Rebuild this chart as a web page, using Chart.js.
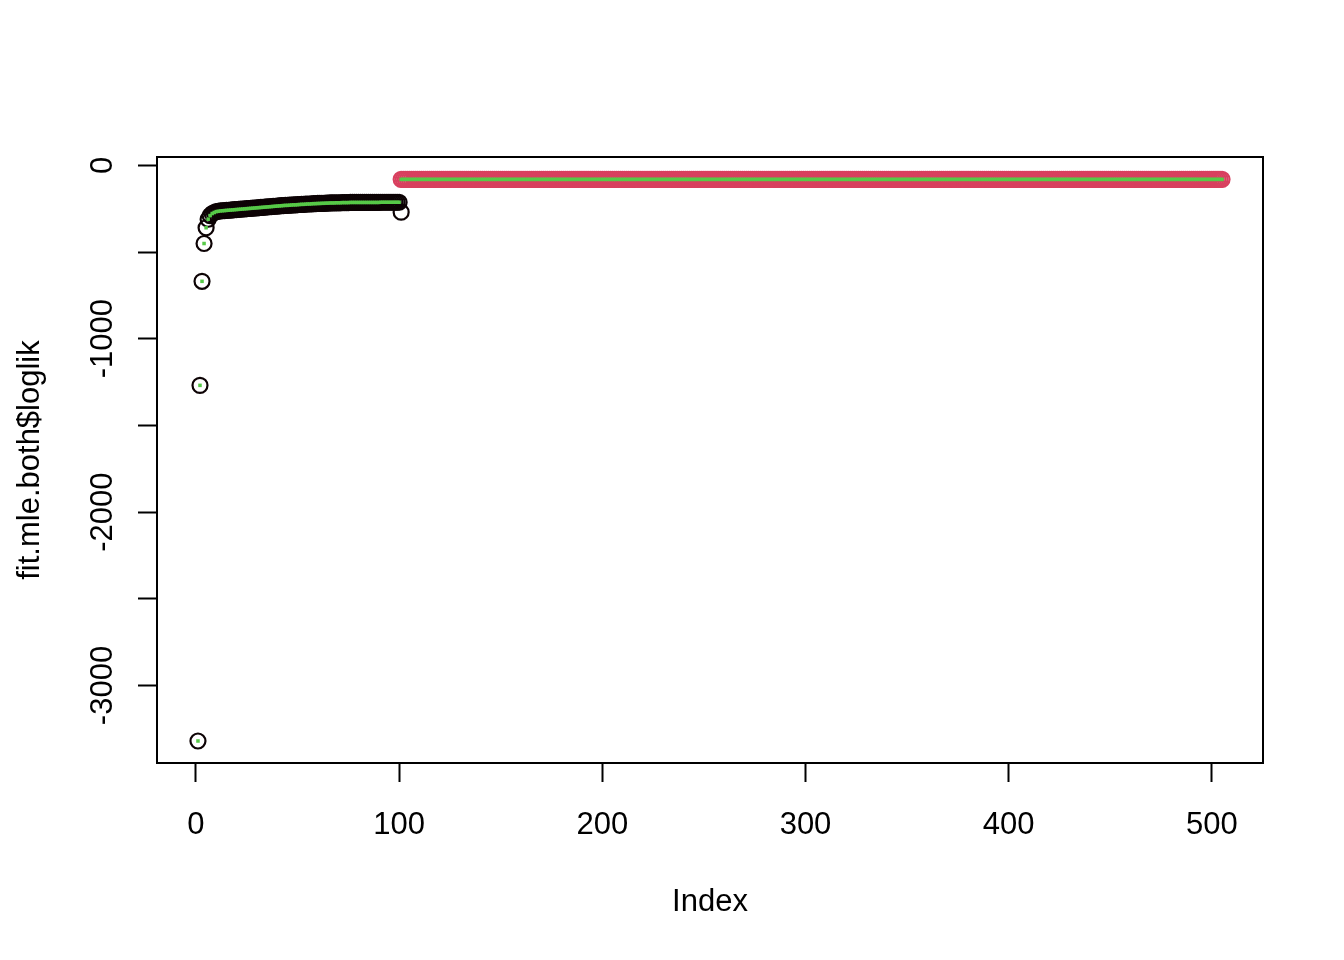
<!DOCTYPE html>
<html>
<head>
<meta charset="utf-8">
<script src="https://cdn.jsdelivr.net/npm/chart.js@4.4.0/dist/chart.umd.min.js"></script>
<style>
  html, body { margin: 0; padding: 0; background: #fff; }
  #wrap { width: 1344px; height: 960px; }
</style>
</head>
<body>
<div id="wrap"><canvas id="plot" width="1344" height="960"></canvas></div>
<script>
// values (index 1..101 black, 101..505 red)
const blackLoglik = [
  -3320, -1269, -669, -451, -360, -311, -290, -278, -272, -267,
  -265, -263, -262, -261, -260, -259, -258, -257, -256, -255,
  -254, -253, -252, -251, -250, -249, -248, -247, -246, -245,
  -244, -243, -242, -241, -240, -239, -238, -237, -236, -235,
  -234, -233, -232, -231, -231, -230, -229, -228, -228, -227,
  -226, -225, -225, -224, -223, -223, -222, -221, -221, -220,
  -220, -219, -219, -218, -218, -217, -217, -217, -216, -216,
  -216, -215, -215, -215, -215, -214, -214, -214, -214, -214,
  -214, -214, -214, -214, -214, -214, -214, -214, -214, -214,
  -213, -213, -213, -213, -213, -213, -213, -213, -213, -213,
  -270
];

const redLoglik = [
  -81, -81, -81, -81, -81, -81, -81, -81, -81, -81, -81, -81, -81, -81, -81,
  -81, -81, -81, -81, -81, -81, -81, -81, -81, -81, -81, -81, -81, -81, -81,
  -81, -81, -81, -81, -81, -81, -81, -81, -81, -81, -81, -81, -81, -81, -81,
  -81, -81, -81, -81, -81, -81, -81, -81, -81, -81, -81, -81, -81, -81, -81,
  -81, -81, -81, -81, -81, -81, -81, -81, -81, -81, -81, -81, -81, -81, -81,
  -81, -81, -81, -81, -81, -81, -81, -81, -81, -81, -81, -81, -81, -81, -81,
  -81, -81, -81, -81, -81, -81, -81, -81, -81, -81, -81, -81, -81, -81, -81,
  -81, -81, -81, -81, -81, -81, -81, -81, -81, -81, -81, -81, -81, -81, -81,
  -81, -81, -81, -81, -81, -81, -81, -81, -81, -81, -81, -81, -81, -81, -81,
  -81, -81, -81, -81, -81, -81, -81, -81, -81, -81, -81, -81, -81, -81, -81,
  -81, -81, -81, -81, -81, -81, -81, -81, -81, -81, -81, -81, -81, -81, -81,
  -81, -81, -81, -81, -81, -81, -81, -81, -81, -81, -81, -81, -81, -81, -81,
  -81, -81, -81, -81, -81, -81, -81, -81, -81, -81, -81, -81, -81, -81, -81,
  -81, -81, -81, -81, -81, -81, -81, -81, -81, -81, -81, -81, -81, -81, -81,
  -81, -81, -81, -81, -81, -81, -81, -81, -81, -81, -81, -81, -81, -81, -81,
  -81, -81, -81, -81, -81, -81, -81, -81, -81, -81, -81, -81, -81, -81, -81,
  -81, -81, -81, -81, -81, -81, -81, -81, -81, -81, -81, -81, -81, -81, -81,
  -81, -81, -81, -81, -81, -81, -81, -81, -81, -81, -81, -81, -81, -81, -81,
  -81, -81, -81, -81, -81, -81, -81, -81, -81, -81, -81, -81, -81, -81, -81,
  -81, -81, -81, -81, -81, -81, -81, -81, -81, -81, -81, -81, -81, -81, -81,
  -81, -81, -81, -81, -81, -81, -81, -81, -81, -81, -81, -81, -81, -81, -81,
  -81, -81, -81, -81, -81, -81, -81, -81, -81, -81, -81, -81, -81, -81, -81,
  -81, -81, -81, -81, -81, -81, -81, -81, -81, -81, -81, -81, -81, -81, -81,
  -81, -81, -81, -81, -81, -81, -81, -81, -81, -81, -81, -81, -81, -81, -81,
  -81, -81, -81, -81, -81, -81, -81, -81, -81, -81, -81, -81, -81, -81, -81,
  -81, -81, -81, -81, -81, -81, -81, -81, -81, -81, -81, -81, -81, -81, -81,
  -81, -81, -81, -81, -81, -81, -81, -81, -81, -81, -81, -81, -81, -81, -81
];
const redStart = 101;

const xTicks = [0, 100, 200, 300, 400, 500];
const yTicks = [0, -500, -1000, -1500, -2000, -2500, -3000];
const yTickLabels = [0, -1000, -2000, -3000];

const xTitle = 'Index';
const yTitle = 'fit.mle.both$loglik';

// green dots: black run up to 100, then the red run
const greenLoglik = blackLoglik.slice(0, redStart - 1).concat(redLoglik);

const blackPts = blackLoglik.map((v, i) => ({ x: i + 1, y: v }));
const redPts = redLoglik.map((v, i) => ({ x: i + redStart, y: v }));
const greenPts = greenLoglik.map((v, i) => ({ x: i + 1, y: v }));

const FONT = '"Liberation Sans", Arial, Helvetica, sans-serif';

const rAxes = {
  id: 'rAxes',
  afterDraw(chart) {
    const ctx = chart.ctx;
    const a = chart.chartArea;
    const xs = chart.scales.x;
    const ys = chart.scales.y;
    ctx.save();
    ctx.strokeStyle = '#000';
    ctx.lineWidth = 2;
    ctx.strokeRect(a.left, a.top, a.right - a.left, a.bottom - a.top);

    ctx.fillStyle = '#000';
    ctx.font = '31px ' + FONT;
    ctx.textAlign = 'center';
    ctx.textBaseline = 'alphabetic';
    xTicks.forEach(v => {
      ctx.fillText(String(v), xs.getPixelForValue(v), 834);
    });
    yTickLabels.forEach(v => {
      ctx.save();
      ctx.translate(112, ys.getPixelForValue(v));
      ctx.rotate(-Math.PI / 2);
      ctx.fillText(String(v), 0, 0);
      ctx.restore();
    });

    ctx.fillText(xTitle, (a.left + a.right) / 2, 911);
    ctx.save();
    ctx.translate(39, (a.top + a.bottom) / 2);
    ctx.rotate(-Math.PI / 2);
    ctx.fillText(yTitle, 0, 0);
    ctx.restore();
    ctx.restore();
  }
};

new Chart(document.getElementById('plot'), {
  type: 'scatter',
  data: {
    datasets: [
      {
        label: 'green',
        data: greenPts,
        pointStyle: 'rect',
        pointRadius: 2.5,
        pointBorderWidth: 0,
        backgroundColor: '#57C948',
        borderColor: '#57C948'
      },
      {
        label: 'red',
        data: redPts,
        pointStyle: 'circle',
        pointRadius: 7.5,
        pointBorderWidth: 2.2,
        borderColor: '#D8405F',
        backgroundColor: 'rgba(0,0,0,0)'
      },
      {
        label: 'black',
        data: blackPts,
        pointStyle: 'circle',
        pointRadius: 7.5,
        pointBorderWidth: 2.2,
        borderColor: '#0d0305',
        backgroundColor: 'rgba(0,0,0,0)'
      }
    ]
  },
  options: {
    responsive: false,
    animation: false,
    layout: { padding: { left: 0, top: 157, right: 81, bottom: 0 } },
    plugins: {
      legend: { display: false },
      tooltip: { enabled: false }
    },
    scales: {
      x: {
        type: 'linear',
        min: -19.16,
        max: 525.16,
        afterBuildTicks: (s) => { s.ticks = xTicks.map(v => ({ value: v })); },
        afterFit: (s) => { s.height = 197; },
        ticks: { display: false },
        border: { display: false },
        grid: {
          drawOnChartArea: false,
          drawTicks: true,
          tickLength: 19,
          tickWidth: 2,
          tickColor: '#000'
        }
      },
      y: {
        type: 'linear',
        min: -3447,
        max: 48,
        afterBuildTicks: (s) => { s.ticks = yTicks.map(v => ({ value: v })); },
        afterFit: (s) => { s.width = 157; },
        ticks: { display: false },
        border: { display: false },
        grid: {
          drawOnChartArea: false,
          drawTicks: true,
          tickLength: 19,
          tickWidth: 2,
          tickColor: '#000'
        }
      }
    }
  },
  plugins: [rAxes]
});
</script>
</body>
</html>
